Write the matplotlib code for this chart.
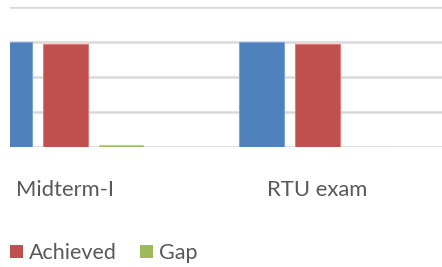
import matplotlib
matplotlib.use("Agg")
import matplotlib.pyplot as plt
from matplotlib.patches import Patch
import numpy as np

categories = ["Midterm-I", "RTU exam"]
target = [60, 60]
achieved = [58.6, 59.0]
gap = [1.2, 0.0]

colors = {"Target": "#4f81bd", "Achieved": "#c0504d", "Gap": "#9bbb59"}
edges = {"Target": "#7fa3d3", "Achieved": "#d77f7d", "Gap": "#b8d28a"}

plt.rcParams['font.family'] = ['Lato', 'DejaVu Sans']

W, H = 442, 267
fig = plt.figure(figsize=(W / 100, H / 100), dpi=100)
ax = fig.add_axes([10 / W, (H - 147) / H, (W - 10) / W, 140 / H])

x = np.arange(len(categories))
bw = 0.175
off = 0.222
for vals, name, o in [(target, "Target", -off), (achieved, "Achieved", 0), (gap, "Gap", off)]:
    ax.bar(x + o, vals, width=bw, color=colors[name], edgecolor=edges[name],
           linewidth=0.8, zorder=3, label=name)

ax.set_ylim(0, 80)
ax.set_yticks([0, 20, 40, 60, 80])
ax.yaxis.grid(True, color="#d9d9d9", linewidth=1.8, zorder=0)
ax.set_xlim(-0.220, 1.494)
ax.set_xticks(x)
ax.set_xticklabels(categories, fontsize=15.8, color="#595959")
ax.tick_params(axis='x', length=0, pad=23.5)
ax.tick_params(axis='y', length=0, labelleft=False)
for s in ax.spines.values():
    s.set_visible(False)
ax.set_facecolor("none")

handles = [Patch(facecolor=colors["Achieved"], edgecolor="none"),
           Patch(facecolor=colors["Gap"], edgecolor="none")]
fig.legend(handles, ["Achieved", "Gap"], loc="center left",
           bbox_to_anchor=(10 / W, (H - 253) / H), ncol=2, frameon=False,
           fontsize=15.5, labelcolor="#595959", handlelength=0.6, handleheight=0.6,
           handletextpad=0.28, columnspacing=1.07, borderpad=0, borderaxespad=0)

fig.savefig("out.png", dpi=100)
